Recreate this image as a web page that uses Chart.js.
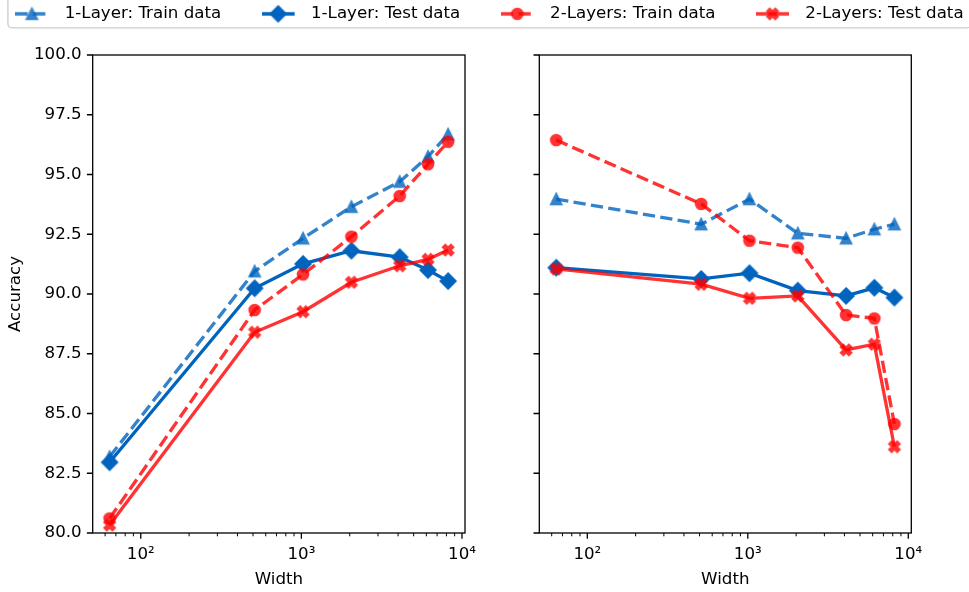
<!DOCTYPE html>
<html>
<head>
<meta charset="utf-8">
<title>Accuracy vs width</title>
<script src="https://cdn.jsdelivr.net/npm/chart.js@4.4.0/dist/chart.umd.min.js"></script>
<style>
  html, body { margin: 0; padding: 0; background: #fff; }
  body { width: 969px; height: 592px; position: relative; overflow: hidden; }
  canvas { position: absolute; }
  #leftChart { left: 0; top: 0; }
  #rightChart { left: 500px; top: 0; }
  #legendChart { left: -45.5px; top: -35.5px; }
</style>
</head>
<body>
<canvas id="leftChart" width="500" height="592"></canvas>
<canvas id="rightChart" width="469" height="592"></canvas>
<canvas id="legendChart" width="1069" height="140"></canvas>
<script>
// ─── Data ────────────────────────────────────────────────────────────────────
const widths = [64, 512, 1024, 2048, 4096, 6144, 8192];

// left panel
const leftOneTrain = [83.19, 90.95, 92.33, 93.65, 94.70, 95.75, 96.68];
const leftOneTest  = [82.96, 90.24, 91.26, 91.81, 91.54, 91.00, 90.54];
const leftTwoTrain = [80.61, 89.33, 90.82, 92.40, 94.10, 95.43, 96.37];
const leftTwoTest  = [80.33, 88.40, 89.26, 90.49, 91.18, 91.45, 91.84];

// right panel
const rightOneTrain = [93.97, 92.92, 93.97, 92.54, 92.33, 92.71, 92.92];
const rightOneTest  = [91.10, 90.63, 90.87, 90.14, 89.92, 90.26, 89.85];
const rightTwoTrain = [96.44, 93.77, 92.23, 91.94, 89.12, 88.98, 84.56];
const rightTwoTest  = [91.05, 90.41, 89.82, 89.92, 87.66, 87.90, 83.61];

const seriesLabels = ['1-Layer: Train data', '1-Layer: Test data',
                      '2-Layers: Train data', '2-Layers: Test data'];

const xDecades = [100, 1000, 10000];
const xTickLabels = ['10\u00B2', '10\u00B3', '10\u2074'];
const yMin = 80, yMax = 100, yStep = 2.5;

// ─── Styling ─────────────────────────────────────────────────────────────────
Chart.defaults.font.family = "'DejaVu Sans', sans-serif";
Chart.defaults.font.size = 16.67;
Chart.defaults.color = '#000';

const BLUE = [0, 100, 190];
const RED = [255, 0, 0];
const LW = 3.33;            // line width
const DASH = [12.3, 5.3];   // dashed pattern
const MS = 11;              // marker size
const MEW = 1.7;            // marker edge width

const rgba = (c, a) => `rgba(${c[0]},${c[1]},${c[2]},${a})`;

const series = [
    { label: seriesLabels[0], color: BLUE, alpha: 0.8, dashed: true,  marker: 'tri',     left: leftOneTrain, right: rightOneTrain },
    { label: seriesLabels[1], color: BLUE, alpha: 1.0, dashed: false, marker: 'diamond', left: leftOneTest,  right: rightOneTest },
    { label: seriesLabels[2], color: RED,  alpha: 0.8, dashed: true,  marker: 'circle',  left: leftTwoTrain, right: rightTwoTrain },
    { label: seriesLabels[3], color: RED,  alpha: 0.8, dashed: false, marker: 'x',       left: leftTwoTest,  right: rightTwoTest }
];

// marker glyphs drawn once, opaque, then copied with the series alpha
function markerImage(kind, color, alpha) {
    const dim = 20;
    const tmp = document.createElement('canvas');
    tmp.width = dim; tmp.height = dim;
    const g = tmp.getContext('2d');
    g.translate(dim / 2, dim / 2);
    g.beginPath();
    const h = MS / 2;
    if (kind === 'tri') {
        g.moveTo(0, -h); g.lineTo(-h, h); g.lineTo(h, h); g.closePath();
    } else if (kind === 'diamond') {
        const d = MS * Math.SQRT1_2;
        g.moveTo(0, -d); g.lineTo(d, 0); g.lineTo(0, d); g.lineTo(-d, 0); g.closePath();
    } else if (kind === 'circle') {
        g.arc(0, 0, h, 0, Math.PI * 2);
    } else {
        const pts = [[-0.25, -0.5], [0, -0.25], [0.25, -0.5], [0.5, -0.25], [0.25, 0], [0.5, 0.25],
                     [0.25, 0.5], [0, 0.25], [-0.25, 0.5], [-0.5, 0.25], [-0.25, 0], [-0.5, -0.25]];
        pts.forEach(([a, b], i) => i ? g.lineTo(a * MS, b * MS) : g.moveTo(a * MS, b * MS));
        g.closePath();
    }
    g.fillStyle = rgba(color, 1);
    g.strokeStyle = rgba(color, 1);
    g.lineWidth = MEW;
    g.fill();
    g.stroke();

    const out = document.createElement('canvas');
    out.width = dim; out.height = dim;
    const o = out.getContext('2d');
    o.globalAlpha = alpha;
    o.drawImage(tmp, 0, 0);
    return out;
}

series.forEach(s => { s.image = markerImage(s.marker, s.color, s.alpha); });

// legend handle: short line with the marker in the middle
const HANDLE_LEN = 33, HANDLE_BOX = 41;
function handleImage(s) {
    const c = document.createElement('canvas');
    c.width = HANDLE_BOX; c.height = 20;
    const g = c.getContext('2d');
    g.strokeStyle = rgba(s.color, s.alpha);
    g.lineWidth = LW;
    g.setLineDash(s.dashed ? DASH : []);
    g.beginPath();
    g.moveTo(0, 10); g.lineTo(HANDLE_LEN, 10);
    g.stroke();
    g.drawImage(s.image, HANDLE_LEN / 2 - s.image.width / 2, 10 - s.image.height / 2);
    return c;
}

// ─── Axis helpers ────────────────────────────────────────────────────────────
const logLo = Math.log10(widths[0]);
const logHi = Math.log10(widths[widths.length - 1]);
const logPad = 0.05 * (logHi - logLo);
const X_MIN = Math.pow(10, logLo - logPad);
const X_MAX = Math.pow(10, logHi + logPad);

const xTickValues = [];
for (let e = 1; e <= 4; e++) {
    for (let m = 1; m <= 9; m++) {
        const v = m * Math.pow(10, e);
        if (v >= X_MIN && v <= X_MAX) xTickValues.push(v);
    }
}
const isDecade = v => xDecades.includes(v);

// box around the plot area plus outward tick marks
const axesFrame = {
    id: 'axesFrame',
    afterDraw(chart) {
        const { ctx, chartArea: a, scales } = chart;
        ctx.save();
        ctx.strokeStyle = '#000';
        ctx.lineWidth = 1.3;
        ctx.strokeRect(a.left, a.top, a.right - a.left, a.bottom - a.top);
        scales.x.ticks.forEach(t => {
            const px = scales.x.getPixelForValue(t.value);
            const major = isDecade(t.value);
            ctx.lineWidth = major ? 1.3 : 1;
            ctx.beginPath();
            ctx.moveTo(px, a.bottom);
            ctx.lineTo(px, a.bottom + (major ? 5.8 : 3.3));
            ctx.stroke();
        });
        ctx.lineWidth = 1.3;
        ctx.beginPath();
        scales.y.ticks.forEach(t => {
            const py = scales.y.getPixelForValue(t.value);
            ctx.moveTo(a.left - 5.8, py);
            ctx.lineTo(a.left, py);
        });
        ctx.stroke();
        ctx.restore();
    }
};

function buildDatasets(side) {
    return series.map((s, i) => ({
        label: s.label,
        data: widths.map((w, k) => ({ x: w, y: s[side][k] })),
        borderColor: rgba(s.color, s.alpha),
        backgroundColor: rgba(s.color, s.alpha),
        borderWidth: LW,
        borderDash: s.dashed ? DASH : [],
        pointStyle: s.image,
        pointRadius: 6,
        tension: 0,
        fill: false,
        order: series.length - i
    }));
}

function panelOptions(showYLabels, yAxisWidth, padRight) {
    return {
        responsive: false,
        animation: false,
        events: [],
        devicePixelRatio: 1,
        layout: { padding: { top: 55, right: padRight, bottom: 0, left: 0 } },
        plugins: { legend: { display: false }, tooltip: { enabled: false } },
        scales: {
            x: {
                type: 'logarithmic',
                min: X_MIN,
                max: X_MAX,
                grid: { display: false, drawTicks: false },
                border: { display: false },
                afterBuildTicks: s => { s.ticks = xTickValues.map(v => ({ value: v })); },
                afterFit: s => { s.height = 59; },
                ticks: {
                    autoSkip: false,
                    maxRotation: 0,
                    padding: 12,
                    callback: v => isDecade(v) ? xTickLabels[xDecades.indexOf(v)] : ''
                },
                title: { display: true, text: 'Width', padding: { top: 0, bottom: 2 } }
            },
            y: {
                min: yMin,
                max: yMax,
                grid: { display: false, drawTicks: false },
                border: { display: false },
                afterFit: s => { s.width = yAxisWidth; },
                ticks: { display: showYLabels, stepSize: yStep, padding: 11, callback: v => v.toFixed(1) },
                title: { display: showYLabels, text: 'Accuracy', padding: { top: 6, bottom: 0 } }
            }
        }
    };
}

new Chart(document.getElementById('leftChart'), {
    type: 'line',
    data: { datasets: buildDatasets('left') },
    options: panelOptions(true, 92.7, 35),
    plugins: [axesFrame]
});

new Chart(document.getElementById('rightChart'), {
    type: 'line',
    data: { datasets: buildDatasets('right') },
    options: panelOptions(false, 39.3, 57.7),
    plugins: [axesFrame]
});

// ─── Shared legend across the top ────────────────────────────────────────────
const legendFrame = {
    id: 'legendFrame',
    afterDraw(chart) {
        const lg = chart.legend;
        const pad = lg.options.labels.padding;
        const content = lg.lineWidths[0] - pad;
        const x0 = (lg.left + lg.right - content) / 2 - 7.5;
        const w = content + 15;
        const cy = lg.top + pad + Chart.defaults.font.size / 2;
        const ctx = chart.ctx;
        ctx.save();
        ctx.strokeStyle = '#cccccc';
        ctx.lineWidth = 1.3;
        ctx.beginPath();
        ctx.roundRect(x0, cy - 60, w, 60 + 14, 4);
        ctx.stroke();
        ctx.restore();
    }
};

new Chart(document.getElementById('legendChart'), {
    type: 'line',
    data: { datasets: series.map(s => ({ label: s.label, data: [] })) },
    options: {
        responsive: false,
        animation: false,
        events: [],
        devicePixelRatio: 1,
        layout: { padding: 0 },
        scales: { x: { display: false }, y: { display: false } },
        plugins: {
            tooltip: { enabled: false },
            legend: {
                position: 'top',
                align: 'center',
                labels: {
                    usePointStyle: true,
                    pointStyleWidth: HANDLE_BOX,
                    boxHeight: 16.67,
                    padding: 40.5,
                    generateLabels: () => series.map((s, i) => ({
                        text: s.label,
                        pointStyle: handleImage(s),
                        datasetIndex: i,
                        hidden: false,
                        lineWidth: 0,
                        fontColor: '#000'
                    }))
                }
            }
        }
    },
    plugins: [legendFrame]
});
</script>
</body>
</html>
